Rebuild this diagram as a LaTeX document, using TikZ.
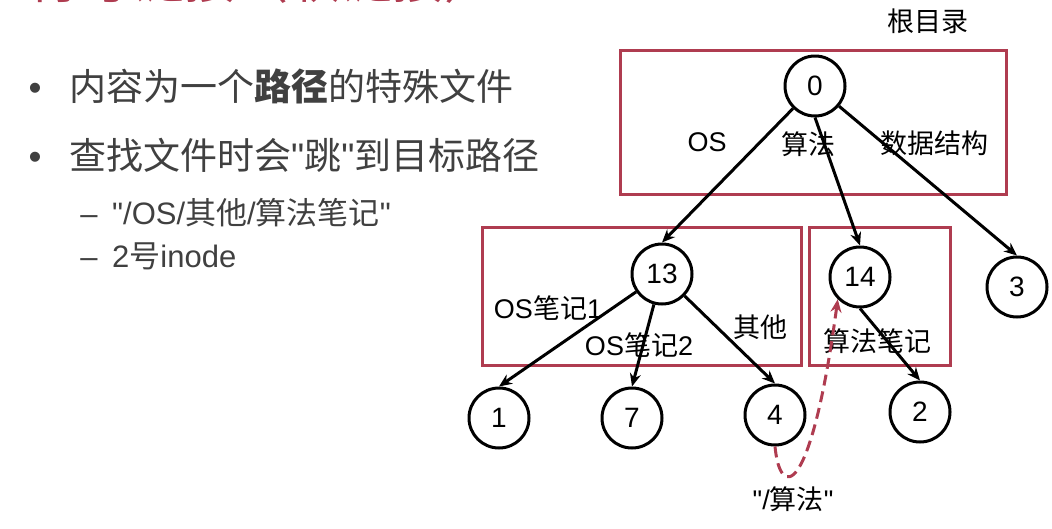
\documentclass[tikz,border=0pt]{standalone}
\usepackage{fontspec}
\setmainfont{Liberation Sans}
\newfontfamily\cjk{Noto Sans CJK SC}
\newcommand{\zh}[1]{{\cjk #1}}
\usetikzlibrary{arrows.meta}
\definecolor{boxRed}{RGB}{175,60,80}
\definecolor{textGray}{RGB}{64,64,64}
\tikzstyle{inode} = [draw,circle,line width=3pt,minimum size=60pt,inner sep=0pt,font=\fontsize{28}{32}\selectfont]
\tikzstyle{dirBox} = [draw=boxRed,line width=3pt,inner sep=0pt]
\tikzstyle{lbl} = [inner sep=0pt,font=\fontsize{27}{32}\selectfont]
\tikzstyle{edge} = [line width=3pt,-{Stealth[length=13pt,width=11pt]}]
\tikzstyle{link} = [draw=boxRed,line width=3pt,dash pattern=on 11pt off 6pt,-{Stealth[length=13pt,width=11pt]}]
\tikzstyle{item} = [inner sep=0pt,text=textGray,font=\fontsize{37}{44}\selectfont]
\tikzstyle{subItem} = [inner sep=0pt,text=textGray,font=\fontsize{31}{37}\selectfont]

\begin{document}
\begin{tikzpicture}[x=1pt,y=-1pt]
	\useasboundingbox (0,0) rectangle (1052,528);
	\begin{scope}
		\clip (0,0) rectangle (1052,528);
		\node[inner sep=0pt,anchor=base west,text=boxRed,font=\fontsize{52}{60}\selectfont] (title) at (28,-2) {\zh{符号链接（软链接）}};
	\end{scope}

	\node[item,anchor=base] (b1) at (35,100) {•};
	\node[item,anchor=base west] (t1) at (69,100) {\zh{内容为一个\textbf{路径}的特殊文件}};
	\node[item,anchor=base] (b2) at (35,169) {•};
	\node[item,anchor=base west] (t2) at (69,169) {\zh{查找文件时会}\textquotedbl\zh{跳}\textquotedbl\zh{到目标路径}};
	\node[subItem,anchor=base] (d1) at (89,224) {\textendash};
	\node[subItem,anchor=base west] (s1) at (112,224) {\textquotedbl/OS/\zh{其他}/\zh{算法笔记}\textquotedbl};
	\node[subItem,anchor=base] (d2) at (89,267) {\textendash};
	\node[subItem,anchor=base west] (s2) at (112,267) {2\zh{号}inode};

	\node[dirBox,minimum width=386pt,minimum height=144pt] (rootBox) at (813,122) {};
	\node[dirBox,minimum width=319pt,minimum height=138pt] (osBox) at (641.5,296) {};
	\node[dirBox,minimum width=141pt,minimum height=138pt] (algBox) at (879.5,296) {};

	\node[lbl] (l0) at (928,21) {\zh{根目录}};
	\node[lbl] (l1) at (707,142) {OS};
	\node[lbl] (l2) at (808,144) {\zh{算法}};
	\node[lbl] (l3) at (934,143) {\zh{数据结构}};
	\node[lbl] (l4) at (548,308) {OS\zh{笔记}1};
	\node[lbl] (l5) at (639,345) {OS\zh{笔记}2};
	\node[lbl] (l6) at (760,327) {\zh{其他}};
	\node[lbl] (l7) at (877,341) {\zh{算法笔记}};
	\node[lbl] (l8) at (793,499) {\textquotedbl/\zh{算法}\textquotedbl};

	\node[inode] (n0) at (815,86) {0};
	\node[inode] (n13) at (662,274) {13};
	\node[inode] (n14) at (860,277) {14};
	\node[inode] (n3) at (1017,287) {3};
	\node[inode] (n1) at (499,418) {1};
	\node[inode] (n7) at (632,418) {7};
	\node[inode] (n4) at (775,415) {4};
	\node[inode] (n2) at (920,412) {2};

	\draw[edge] (n0) -- (n13.north);
	\draw[edge] (n0.south) -- (n14.north);
	\draw[edge] (n0) -- (n3.north);
	\draw[edge] (n13) -- (n1.north);
	\draw[edge] (n13) -- (n7.north);
	\draw[edge] (n13) -- (n4.north);
	\draw[edge] (n14.south) -- (n2.north);
	\draw[link] (n4.south) .. controls +(5,53) and +(-27,201) .. (n14.south west);
\end{tikzpicture}
\end{document}
